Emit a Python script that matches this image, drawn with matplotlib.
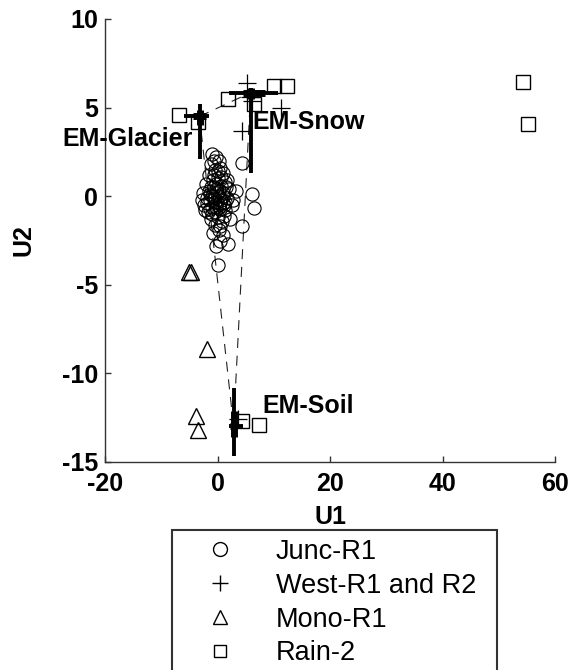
import matplotlib
matplotlib.use("Agg")
import matplotlib.pyplot as plt
from matplotlib.lines import Line2D

plt.rcParams['font.family'] = ['Liberation Sans', 'DejaVu Sans']
plt.rcParams['axes.unicode_minus'] = False

# ---- data ----
junc_u1 = [-0.9, -0.3, 0.2, -1.2, 0.5, -0.5, 1.0, -1.5, 0.0, -0.8, 1.3, -2.0, 0.6, -1.1, 2.0,
           -0.2, -2.5, 1.0, -1.4, 0.3, -0.7, 1.6, -2.8, -0.1, 0.9, -1.8, 2.6, -1.0, 0.4, -2.2,
           1.4, -0.4, 0.0, -1.2, 0.8, -0.5, 0.3, -0.8, 1.0, 0.5, 1.8, -0.2, 0.0, 4.3, 6.4,
           6.2, 4.4, 3.2, 2.8, -0.6, 0.1, -1.6, 1.5, -0.3, -2.4, 0.6, -1.3, 1.2, -0.9, 0.2,
           2.2, -0.4, -1.0, 0.7, -0.2, 1.1, -1.7, 0.4, -0.6, 0.9, -1.9, 1.7, -0.1, 0.5,
           -1.4, 0.2, -0.7, 1.3]
junc_u2 = [2.4, 2.2, 2.0, 1.8, 1.6, 1.5, 1.3, 1.2, 1.0, 0.9, 0.8, 0.7, 0.6, 0.5, 0.4,
           0.4, 0.2, 0.2, 0.1, 0.0, -0.1, -0.1, -0.2, -0.3, -0.4, -0.4, -0.5, -0.6, -0.7, -0.8,
           -0.8, -0.9, -1.2, -1.3, -1.4, -1.6, -1.9, -2.1, -2.2, -2.5, -2.7, -2.8, -3.9, -1.7, -0.65,
           0.1, 1.9, 0.3, -0.2, 2.0, 1.4, 0.3, 0.5, 0.7, -0.5, -0.2, -0.2, -1.1, 0.0, 0.3,
           -1.3, -0.3, -1.0, 1.1, -0.6, -0.5, -0.9, -1.7, 0.5, 0.0, -0.1, 0.9, 0.2, -0.4,
           -0.7, -0.6, 1.2, -0.3]

west_u1 = [5.3, 4.3, 11.2, 6.2, 5.8, 3.7]
west_u2 = [6.4, 3.7, 4.95, 5.4, 5.6, -12.6]

mono_u1 = [-5.0, -4.7, -1.8, -3.9, -3.4]
mono_u2 = [-4.3, -4.25, -8.6, -12.4, -13.2]

rain_u1 = [-6.9, -3.4, 1.8, 10.0, 12.4, 6.4, 54.3, 55.2, 7.4, 4.3]
rain_u2 = [4.6, 4.2, 5.46, 6.2, 6.2, 5.2, 6.47, 4.1, -12.9, -12.7]

em_names = ["EM-Glacier", "EM-Snow", "EM-Soil"]
em_u1 = [-3.2, 5.9, 2.85]
em_u2 = [4.5, 5.85, -12.95]
em_u1_lo = [-6.0, 2.0, 2.1]
em_u1_hi = [-1.6, 10.7, 4.6]
em_u2_lo = [2.1, 1.3, -14.65]
em_u2_hi = [5.2, 6.1, -10.8]
em_u1_lo_in = [-4.3, 4.5, 2.3]
em_u1_hi_in = [-2.1, 8.5, 3.4]
em_u2_lo_in = [4.0, 5.5, -13.6]
em_u2_hi_in = [4.85, 6.1, -12.1]
em_label_u1 = [-27.6, 6.2, 8.0]
em_label_u2 = [3.2, 4.2, -11.85]

legend_labels = ["Junc-R1", "West-R1 and R2", "Mono-R1", "Rain-2"]

# ---- figure ----
fig = plt.figure(figsize=(5.71, 6.70), dpi=100)
ax = fig.add_axes([105/571, 1-462/670, (555-105)/571, (462-19)/670])

ax.plot(junc_u1, junc_u2, 'o', mfc='none', mec='black', ms=9.5, mew=0.8, zorder=3)
ax.plot(west_u1, west_u2, '+', color='black', ms=13, mew=0.9, zorder=3)
ax.plot(mono_u1, mono_u2, '^', mfc='none', mec='black', ms=11, mew=1.0, zorder=3)
ax.plot(rain_u1, rain_u2, 's', mfc='none', mec='black', ms=10, mew=1.0, zorder=3)

# mixing triangle
tri_u1 = em_u1 + [em_u1[0]]
tri_u2 = em_u2 + [em_u2[0]]
ax.plot(tri_u1, tri_u2, color='#222222', lw=0.8, linestyle=(0, (9, 7)), zorder=2)

for i in range(3):
    ax.plot([em_u1_lo[i], em_u1_hi[i]], [em_u2[i], em_u2[i]], color='black', lw=2.8,
            solid_capstyle='butt', zorder=4)
    ax.plot([em_u1[i], em_u1[i]], [em_u2_lo[i], em_u2_hi[i]], color='black', lw=2.8,
            solid_capstyle='butt', zorder=4)
    ax.plot([em_u1_lo_in[i], em_u1_hi_in[i]], [em_u2[i], em_u2[i]], color='black', lw=5,
            solid_capstyle='butt', zorder=4)
    ax.plot([em_u1[i], em_u1[i]], [em_u2_lo_in[i], em_u2_hi_in[i]], color='black', lw=5,
            solid_capstyle='butt', zorder=4)
    ax.text(em_label_u1[i], em_label_u2[i], em_names[i], fontsize=18, fontweight='bold',
            ha='left', va='center', clip_on=False, zorder=5)

ax.set_xlim(-20, 60)
ax.set_ylim(-15, 10)
ax.set_xticks([-20, 0, 20, 40, 60])
ax.set_yticks([-15, -10, -5, 0, 5, 10])
ax.spines['top'].set_visible(False)
ax.spines['right'].set_visible(False)
for s in ['left', 'bottom']:
    ax.spines[s].set_color('#333333')
    ax.spines[s].set_linewidth(1.0)
ax.tick_params(direction='in', length=4, width=1.0, color='#333333', labelsize=18)
ax.tick_params(axis='x', pad=7)
ax.tick_params(axis='y', pad=5)
for lab in ax.get_xticklabels() + ax.get_yticklabels():
    lab.set_fontweight('bold')
ax.set_xlabel("U1", fontsize=18, fontweight='bold', labelpad=7)
ax.set_ylabel("U2", fontsize=18, fontweight='bold', labelpad=19)

handles = [
    Line2D([], [], marker='o', ls='none', mfc='none', mec='black', ms=10, mew=1.0),
    Line2D([], [], marker='+', ls='none', color='black', ms=12, mew=1.0),
    Line2D([], [], marker='^', ls='none', mfc='none', mec='black', ms=10, mew=1.0),
    Line2D([], [], marker='s', ls='none', mfc='none', mec='black', ms=9, mew=1.0),
]
leg = fig.legend(handles, legend_labels, loc='upper left',
                 bbox_to_anchor=(172/571, 0, (497-172)/571, 1-530/670), mode='expand',
                 fontsize=19.5, frameon=True,
                 fancybox=False, edgecolor='black', labelspacing=0.29,
                 handlelength=2.9, handletextpad=0.6, borderpad=0.33, borderaxespad=0)
leg.get_frame().set_linewidth(1.5)

fig.savefig("out.png", dpi=100)
